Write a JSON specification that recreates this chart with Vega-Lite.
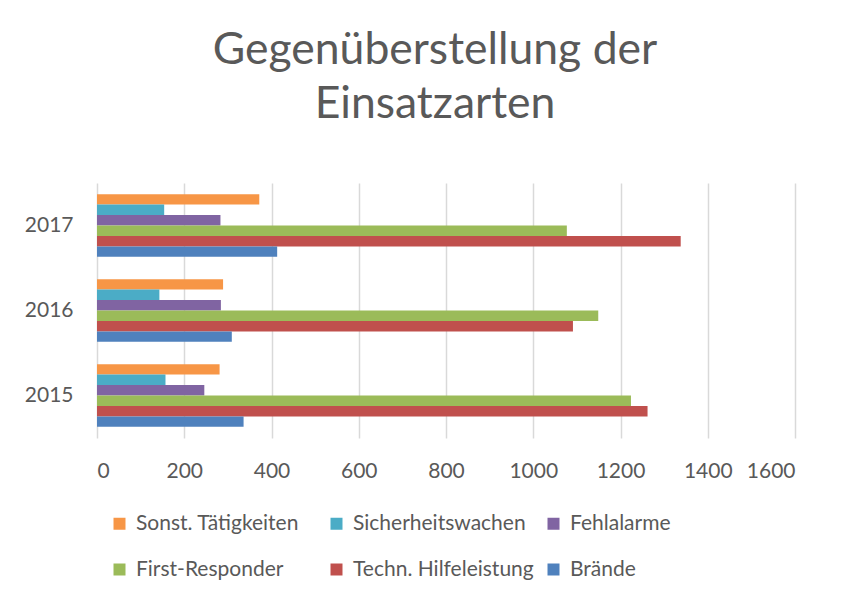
{
  "$schema": "https://vega.github.io/schema/vega-lite/v6.json",
  "width": 698,
  "height": 255,
  "autosize": "none",
  "padding": {"left": 97, "top": 183, "right": 56, "bottom": 154},
  "background": "white",
  "title": {
    "text": ["Gegenüberstellung der", "Einsatzarten"],
    "font": "Lato",
    "fontSize": 44.5,
    "fontWeight": "normal",
    "color": "#595959",
    "lineHeight": 54,
    "anchor": "middle",
    "frame": "group",
    "dx": -11,
    "offset": 56
  },
  "data": {
    "values": [
      {"Jahr": "2017", "Kategorie": "Sonst. Tätigkeiten", "Anzahl": 372},
      {"Jahr": "2017", "Kategorie": "Sicherheitswachen", "Anzahl": 154},
      {"Jahr": "2017", "Kategorie": "Fehlalarme", "Anzahl": 283},
      {"Jahr": "2017", "Kategorie": "First-Responder", "Anzahl": 1077},
      {"Jahr": "2017", "Kategorie": "Techn. Hilfeleistung", "Anzahl": 1338},
      {"Jahr": "2017", "Kategorie": "Brände", "Anzahl": 413},
      {"Jahr": "2016", "Kategorie": "Sonst. Tätigkeiten", "Anzahl": 289},
      {"Jahr": "2016", "Kategorie": "Sicherheitswachen", "Anzahl": 143},
      {"Jahr": "2016", "Kategorie": "Fehlalarme", "Anzahl": 284},
      {"Jahr": "2016", "Kategorie": "First-Responder", "Anzahl": 1149},
      {"Jahr": "2016", "Kategorie": "Techn. Hilfeleistung", "Anzahl": 1091},
      {"Jahr": "2016", "Kategorie": "Brände", "Anzahl": 309},
      {"Jahr": "2015", "Kategorie": "Sonst. Tätigkeiten", "Anzahl": 281},
      {"Jahr": "2015", "Kategorie": "Sicherheitswachen", "Anzahl": 157},
      {"Jahr": "2015", "Kategorie": "Fehlalarme", "Anzahl": 246},
      {"Jahr": "2015", "Kategorie": "First-Responder", "Anzahl": 1224},
      {"Jahr": "2015", "Kategorie": "Techn. Hilfeleistung", "Anzahl": 1262},
      {"Jahr": "2015", "Kategorie": "Brände", "Anzahl": 336}
    ]
  },
  "mark": {"type": "bar", "cornerRadius": 0},
  "encoding": {
    "y": {
      "field": "Jahr",
      "type": "nominal",
      "sort": "descending",
      "scale": {"paddingInner": 0.262, "paddingOuter": 0.131},
      "axis": {
        "title": null,
        "domain": false,
        "ticks": false,
        "labelFont": "Lato",
        "labelFontSize": 21,
        "labelColor": "#595959",
        "labelPadding": 24
      }
    },
    "yOffset": {
      "field": "Kategorie",
      "type": "nominal",
      "sort": ["Sonst. Tätigkeiten", "Sicherheitswachen", "Fehlalarme", "First-Responder", "Techn. Hilfeleistung", "Brände"],
      "scale": {"paddingInner": 0, "paddingOuter": 0}
    },
    "x": {
      "field": "Anzahl",
      "type": "quantitative",
      "scale": {"domain": [0, 1600], "nice": false},
      "axis": {
        "title": null,
        "values": [0, 200, 400, 600, 800, 1000, 1200, 1400, 1600],
        "format": "d",
        "domain": false,
        "ticks": false,
        "grid": true,
        "gridColor": "#d9d9d9",
        "gridWidth": 1.5,
        "labelFont": "Lato",
        "labelFontSize": 21,
        "labelColor": "#595959",
        "labelPadding": 22
      }
    },
    "color": {
      "field": "Kategorie",
      "type": "nominal",
      "scale": {
        "domain": ["Sonst. Tätigkeiten", "Sicherheitswachen", "Fehlalarme", "First-Responder", "Techn. Hilfeleistung", "Brände"],
        "range": ["#f79646", "#4bacc6", "#8064a2", "#9bbb59", "#c0504d", "#4f81bd"]
      },
      "legend": {
        "title": null,
        "orient": "none",
        "direction": "horizontal",
        "legendX": 12,
        "legendY": 330,
        "columns": 3,
        "gridAlign": "all",
        "columnPadding": 9,
        "rowPadding": 24,
        "symbolType": "square",
        "symbolSize": 144,
        "symbolStrokeWidth": 0,
        "labelFont": "Lato",
        "labelFontSize": 21,
        "labelColor": "#595959",
        "labelOffset": 6,
        "labelLimit": 300
      }
    }
  },
  "config": {
    "view": {"stroke": null}
  }
}
